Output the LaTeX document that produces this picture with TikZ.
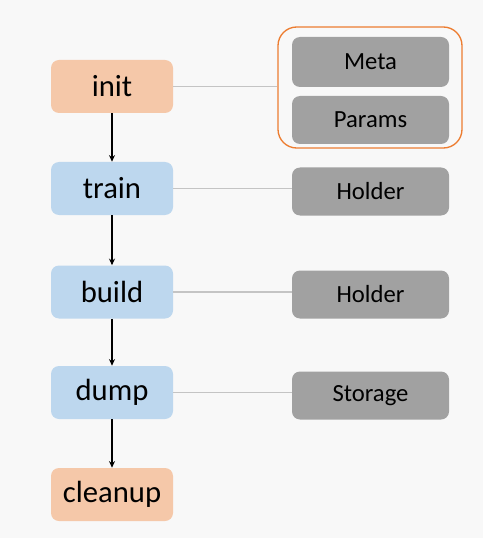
\documentclass[tikz,border=0pt]{standalone}
\usepackage{fontspec}
\setmainfont{Carlito}
\usetikzlibrary{arrows.meta}
\definecolor{peach}{HTML}{F5C8A9}
\definecolor{lblue}{HTML}{BDD7EE}
\definecolor{dgray}{HTML}{A1A1A1}
\definecolor{oborder}{HTML}{ED7D31}
\definecolor{bg}{HTML}{F8F8F8}
\definecolor{lgray}{HTML}{C4C4C4}
\tikzset{
  stage/.style={rounded corners=6pt, minimum width=122*0.75pt, minimum height=53*0.75pt, inner sep=0pt, font=\fontsize{23}{25}\selectfont},
  peachbox/.style={stage, fill=peach},
  bluebox/.style={stage, fill=lblue},
  res/.style={rounded corners=6pt, fill=dgray, minimum width=157*0.75pt, minimum height=48*0.75pt, inner sep=0pt, font=\fontsize{18.5}{20}\selectfont},
  link/.style={draw=lgray, line width=0.9pt},
  flow/.style={draw=black, line width=0.8pt, -{Stealth[length=5pt,width=4.5pt]}},
}
\begin{document}
\begin{tikzpicture}[x=0.75pt,y=-0.75pt]
\fill[bg] (0,0) rectangle (483,538);
\useasboundingbox (0,0) rectangle (483,538);
\node[peachbox] (init) at (112,86.5) {init};
\node[bluebox] (train) at (112,188.5) {train};
\node[bluebox] (build) at (112,292) {build};
\node[bluebox] (dump) at (112,392.5) {dump};
\node[peachbox] (cleanup) at (112,494.5) {cleanup};
\node[draw=oborder, line width=1pt, rounded corners=14pt, minimum width=184*0.75pt, minimum height=121*0.75pt, inner sep=0pt] (group) at (370,87.5) {};
\node[res, minimum height=50*0.75pt] (meta) at (370.5,62) {Meta};
\node[res] (params) at (370.5,120) {Params};
\node[res] (holder1) at (370.5,191.5) {Holder};
\node[res] (holder2) at (370.5,294.5) {Holder};
\node[res] (storage) at (370.5,395.5) {Storage};
\draw[link] (init.east) -- (init.east -| group.west);
\draw[link] (train.east) -- (train.east -| holder1.west);
\draw[link] (build.east) -- (build.east -| holder2.west);
\draw[link] (dump.east) -- (dump.east -| storage.west);
\draw[flow] (init) -- (train);
\draw[flow] (train) -- (build);
\draw[flow] (build) -- (dump);
\draw[flow] (dump) -- (cleanup);
\end{tikzpicture}
\end{document}
